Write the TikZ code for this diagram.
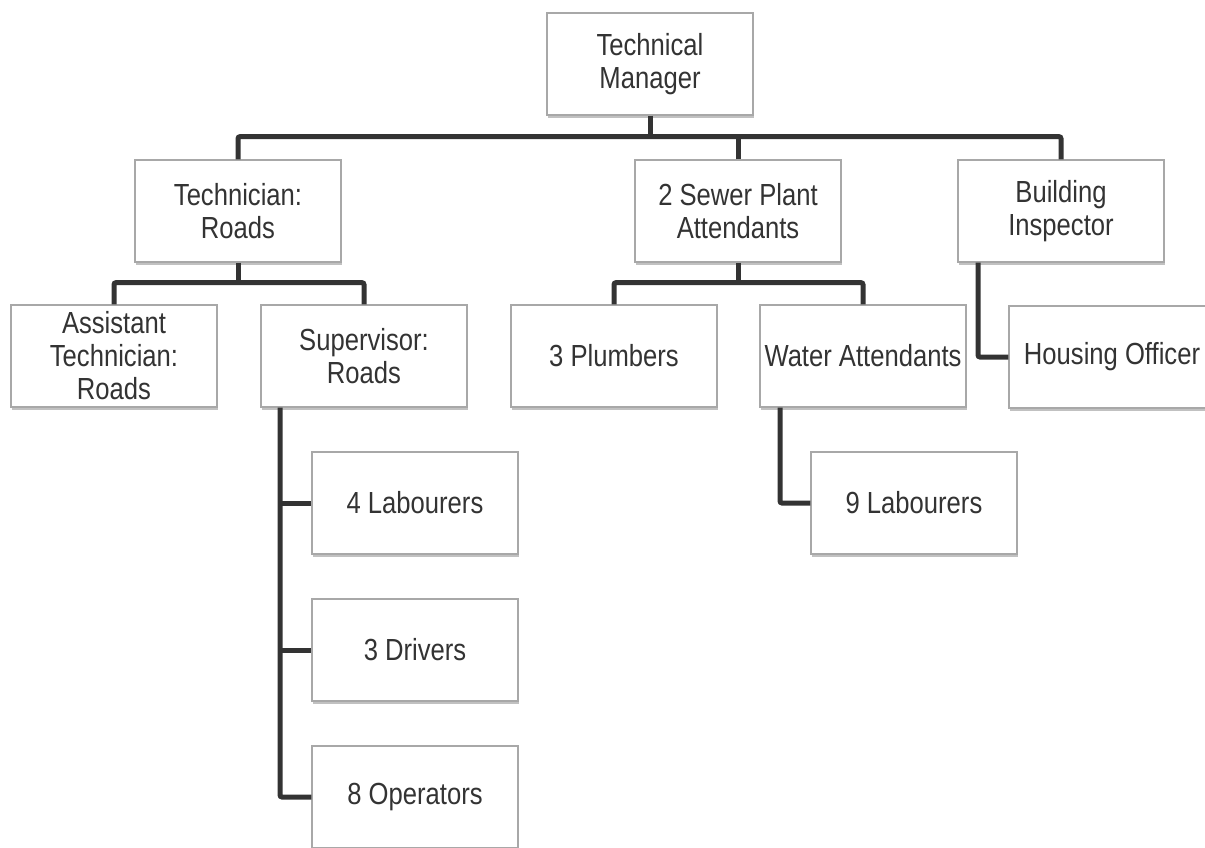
\documentclass[tikz,border=0pt]{standalone}
\usepackage{fontspec}
\setmainfont[FakeStretch=0.84]{Liberation Sans}
\usetikzlibrary{shadows}
\definecolor{txt}{HTML}{333333}
\definecolor{lin}{HTML}{333333}
\definecolor{bord}{HTML}{A8A8A8}
\begin{document}
\begin{tikzpicture}[x=1pt,y=-1pt,
  box/.style={draw=bord, line width=1.3pt, fill=white, rectangle,
    minimum width=206pt, minimum height=102pt, inner sep=0pt,
    align=center, text=txt,
    font=\fontsize{30.5}{33}\selectfont,
    drop shadow={shadow xshift=1pt, shadow yshift=-2.5pt, opacity=0.35, fill=black!70}},
  conn/.style={draw=lin, line width=5pt, rounded corners=2pt}]
\useasboundingbox (0,0) rectangle (1205,847);
% nodes
\node[box] (tm) at (650,64) {Technical\\Manager};
\node[box] (tr) at (238,211) {Technician:\\Roads};
\node[box] (sp) at (738,211) {2 Sewer Plant\\Attendants};
\node[box] (bi) at (1061,211) {Building\\Inspector};
\node[box] (at) at (114,356) {Assistant\\Technician:\\Roads};
\node[box] (su) at (364,356) {Supervisor:\\Roads};
\node[box] (pl) at (614,356) {3 Plumbers};
\node[box] (wa) at (863,356) {Water Attendants};
\node[box] (ho) at (1112,357) {Housing Officer};
\node[box] (l4) at (415,503) {4 Labourers};
\node[box] (dr) at (415,650) {3 Drivers};
\node[box] (op) at (415,797) {8 Operators};
\node[box] (l9) at (914,503) {9 Labourers};
% connectors
\draw[conn] (tm.south) -- ++(0,21) coordinate (b1);
\draw[conn] (tr.north) |- (b1) -| (bi.north);
\draw[conn] (sp.north) -- (sp.north |- b1);
\draw[conn] (tr.south) -- ++(0,20) coordinate (b2);
\draw[conn] (at.north) |- (b2) -| (su.north);
\draw[conn] (sp.south) -- ++(0,20) coordinate (b3);
\draw[conn] (pl.north) |- (b3) -| (wa.north);
\coordinate (bix) at (978,0);
\draw[conn] (bi.south -| bix) |- (ho.west);
\coordinate (sux) at (280,0);
\draw[conn] (su.south -| sux) |- (op.west);
\draw[conn] (l4.west -| sux) -- (l4.west);
\draw[conn] (dr.west -| sux) -- (dr.west);
\coordinate (wax) at (780,0);
\draw[conn] (wa.south -| wax) |- (l9.west);
\end{tikzpicture}
\end{document}
